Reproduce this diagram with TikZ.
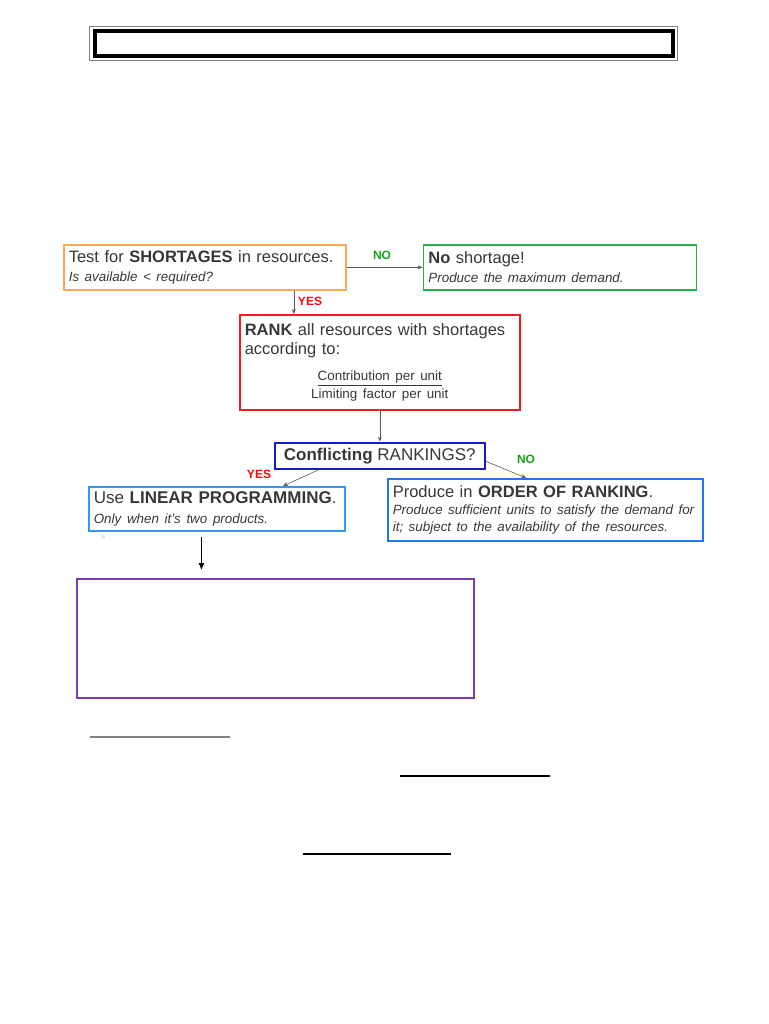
\documentclass[tikz,border=0pt]{standalone}
\usepackage{fontspec}
\setmainfont{Liberation Sans}
\usetikzlibrary{arrows.meta, positioning}

\definecolor{txtgray}{RGB}{55,55,55}
\definecolor{arrgray}{RGB}{90,90,90}
\definecolor{orangeline}{RGB}{250,168,82}
\definecolor{greenline}{RGB}{40,172,80}
\definecolor{redline}{RGB}{240,28,36}
\definecolor{navyline}{RGB}{22,30,190}
\definecolor{skyline}{RGB}{52,152,242}
\definecolor{blueline}{RGB}{32,118,238}
\definecolor{purpleline}{RGB}{122,62,172}
\definecolor{yesred}{RGB}{242,10,10}
\definecolor{nogreen}{RGB}{24,160,24}

\newcommand{\bigtxt}{\fontsize{16.5}{19.5}\selectfont}
\newcommand{\subtxt}{\fontsize{13.4}{17}\selectfont}

\begin{document}
\begin{tikzpicture}[x=1pt,y=-1pt,
    box/.style={draw, rectangle, line width=1.6pt, anchor=north west, align=left,
        inner xsep=5pt, inner ysep=2pt, text=txtgray, font=\bigtxt},
    arr/.style={draw=arrgray, line width=0.6pt, -{Stealth[length=5pt,width=4pt]}},
    yes/.style={text=yesred, font=\fontsize{12}{13}\selectfont\bfseries, inner sep=1pt},
    no/.style={text=nogreen, font=\fontsize{12}{13}\selectfont\bfseries, inner sep=1pt}]
    \useasboundingbox (0,0) rectangle (768,1024);
    % heading frame
    \draw[gray, line width=0.8pt] (89,26) rectangle (677,60);
    \draw[line width=3.5pt] (95,31) rectangle (673,56);
    % boxes
    \node[box, draw=orangeline, minimum width=282pt, minimum height=45pt, text width=272pt]
        (test) at (63,244) {Test for \textbf{SHORTAGES} in resources.\\{\subtxt\itshape Is available < required?}};
    \node[box, draw=greenline, minimum width=273pt, minimum height=45pt, text width=263pt,
        right=76pt of test] (noshort) {\textbf{No} shortage!\\{\subtxt\itshape Produce the maximum demand.}};
    \node[box, draw=redline, minimum width=280pt, minimum height=95pt, text width=270pt]
        (rank) at (239,314) {\textbf{RANK} all resources with shortages\\according to:\par
        \vspace{9pt}{\centering\subtxt\underline{Contribution per unit}\\[1pt]Limiting factor per unit\par}};
    \node[box, draw=navyline, line width=2.4pt, align=center, minimum width=210pt, minimum height=26pt,
        font=\fontsize{17}{19}\selectfont, below=31pt of rank] (conflict) {\textbf{Conflicting} RANKINGS?};
    \node[box, draw=skyline, minimum width=256pt, minimum height=44pt, text width=246pt,
        font=\fontsize{17}{20.5}\selectfont]
        (linprog) at (88,486) {Use \textbf{LINEAR PROGRAMMING}.\\{\subtxt\itshape Only when it’s two products.}};
    \node[box, draw=blueline, minimum width=315pt, minimum height=62pt, text width=305pt]
        (order) at (387,478) {Produce in \textbf{ORDER OF RANKING}.\\{\subtxt\itshape Produce sufficient units to satisfy the demand for\\it; subject to the availability of the resources.\par}};
    \node[box, draw=purpleline, line width=1.8pt, minimum width=397pt, minimum height=119pt]
        (blank) at (76,578) {};
    \node[text=gray!60, font=\fontsize{4}{4}\selectfont] (slideno) at (103,537) {26};
    % labels
    \node[no] (no1) at (382,255) {NO};
    \node[yes] (yes1) at (310,301) {YES};
    \node[yes] (yes2) at (259,474) {YES};
    \node[no] (no2) at (526,459) {NO};
    % connectors
    \draw[arr] (test.east) -- (noshort.west);
    \draw[arr] ([xshift=89pt]test.south) -- ([xshift=89pt]test.south |- rank.north);
    \draw[arr] (rank.south) -- (rank.south |- conflict.north);
    \draw[arr] (conflict.193) -- (linprog.19);
    \draw[arr] (conflict.-3) -- (order.121);
    \draw[draw=arrgray, line width=0.8pt, -{Latex[length=7pt,width=6pt]}, black, shorten <=5pt, shorten >=8pt]
        (linprog.-124) -- (linprog.-124 |- blank.north);
    % rules further down
    \draw[gray, line width=1.5pt] (90,737) -- (230,737);
    \draw[line width=1.6pt] (400,776) -- (550,776);
    \draw[line width=1.6pt] (303,854) -- (451,854);
\end{tikzpicture}
\end{document}
